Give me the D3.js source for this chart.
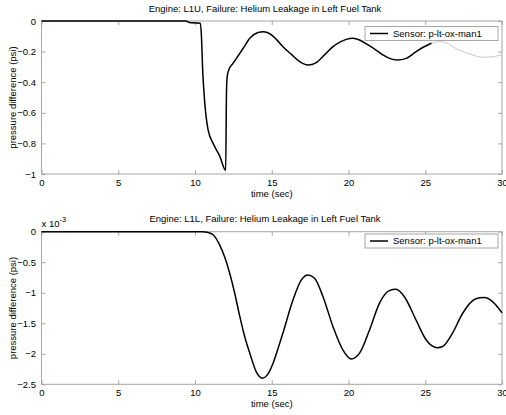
<!DOCTYPE html>
<html>
<head>
<meta charset="utf-8">
<script src="https://cdn.jsdelivr.net/npm/d3@7/dist/d3.min.js"></script>
<style>
  body { margin: 0; background: #fff; }
  svg { display: block; font-family: "Liberation Sans", Arial, sans-serif; }
  .tick text { font-size: 9.5px; fill: #000; }
  .tick line { stroke: #a6a6a6; }
</style>
</head>
<body>
<div id="chart"></div>
<script>
'use strict';

// upper plot, engine L1U (psi)
const topTime = [0, 9.4, 9.6, 9.8, 10.35, 10.42, 10.5, 10.64, 10.85, 11.18, 11.6, 12.0, 12.05, 12.1, 12.2,
    12.45, 12.7, 13.13, 13.57, 14.1, 14.45, 14.9, 15.3, 15.73, 16.3, 16.82, 17.36, 17.9, 18.45, 18.99,
    19.5, 19.86, 20.29, 20.72, 21.25, 21.8, 22.3, 22.67, 23.2, 23.76, 24.41, 24.9, 25.4, 26.04, 26.5,
    27.0, 27.6, 28.1, 28.75, 29.4, 30];
const topPsi = [0, 0, -0.008, -0.012, -0.014, -0.1, -0.32, -0.54, -0.71, -0.80, -0.88, -0.975, -0.47, -0.36, -0.32,
    -0.28, -0.244, -0.18, -0.113, -0.075, -0.07, -0.085, -0.12, -0.168, -0.22, -0.266, -0.288, -0.272, -0.22, -0.168,
    -0.135, -0.12, -0.113, -0.124, -0.155, -0.19, -0.225, -0.244, -0.255, -0.244, -0.2, -0.17, -0.145, -0.135, -0.15,
    -0.18, -0.205, -0.222, -0.237, -0.233, -0.22];
const topFadeFrom = 25.4; // trace is drawn light gray after this time

// lower plot, engine L1L (x 10^-3 psi)
const botTime = [0, 10.5, 10.8, 11.18, 11.61, 11.94, 12.26, 12.58, 12.91, 13.24, 13.57, 14.0, 14.39, 14.7,
    15.08, 15.4, 15.73, 16.38, 16.93, 17.36, 17.79, 18.34, 18.99, 19.64, 20.18, 20.72, 21.37, 22.02,
    22.66, 23.1, 23.64, 24.4, 25.05, 25.8, 26.13, 26.78, 27.43, 28.3, 28.84, 29.4, 30];
const botPsi = [0, 0, -0.01, -0.05, -0.22, -0.42, -0.68, -1.0, -1.38, -1.72, -1.99, -2.3, -2.40, -2.35,
    -2.16, -1.92, -1.66, -1.12, -0.79, -0.71, -0.764, -1.065, -1.556, -1.94, -2.085, -1.99, -1.61, -1.17,
    -0.966, -0.944, -1.065, -1.447, -1.77, -1.9, -1.88, -1.66, -1.34, -1.10, -1.08, -1.15, -1.33];

const xTicks = [0, 5, 10, 15, 20, 25, 30];
const topTicks = [0, -0.2, -0.4, -0.6, -0.8, -1];
const botTicks = [0, -0.5, -1, -1.5, -2, -2.5];

const titles = ['Engine: L1U, Failure: Helium Leakage in Left Fuel Tank',
                'Engine: L1L, Failure: Helium Leakage in Left Fuel Tank'];
const legendText = 'Sensor: p-lt-ox-man1';

const width = 506, height = 415;
const left = 41.5, right = 502;
const boxColor = '#a6a6a6';

const svg = d3.select('#chart').append('svg')
    .attr('width', width)
    .attr('height', height);
svg.append('rect').attr('width', width).attr('height', height).attr('fill', '#fff');

const x = d3.scaleLinear().domain([0, 30]).range([left, right]);

function panel(cfg) {
    const y = d3.scaleLinear().domain(cfg.domain).range([cfg.bottom, cfg.top]);
    const g = svg.append('g');

    g.append('rect')
        .attr('x', left).attr('y', cfg.top)
        .attr('width', right - left).attr('height', cfg.bottom - cfg.top)
        .attr('fill', '#fff').attr('stroke', boxColor);

    const ax = (axis, tx, ty) => g.append('g')
        .attr('transform', `translate(${tx},${ty})`)
        .call(axis)
        .call(s => s.select('.domain').remove())
        .call(s => s.selectAll('.tick text').attr('font-family', null).attr('font-size', null));

    ax(d3.axisBottom(x).tickValues(xTicks).tickSizeInner(-4).tickSizeOuter(0).tickPadding(5.3), 0, cfg.bottom);
    ax(d3.axisTop(x).tickValues(xTicks).tickSizeInner(-4).tickSizeOuter(0).tickFormat(''), 0, cfg.top);
    ax(d3.axisLeft(y).tickValues(cfg.ticks).tickSizeInner(-4).tickSizeOuter(0).tickPadding(5.5)
        .tickFormat(d3.format('')), left, 0);
    ax(d3.axisRight(y).tickValues(cfg.ticks).tickSizeInner(-4).tickSizeOuter(0).tickFormat(''), right, 0);

    const pts = cfg.time.map((t, i) => [t, cfg.values[i]]);
    const line = d3.line().x(d => x(d[0])).y(d => y(d[1])).curve(d3.curveMonotoneX);
    const fade = cfg.fadeFrom == null ? Infinity : cfg.fadeFrom;
    const head = pts.filter(d => d[0] <= fade);
    const tail = pts.filter(d => d[0] >= fade);

    if (tail.length > 1) {
        g.append('path').datum(tail).attr('d', line)
            .attr('fill', 'none').attr('stroke', '#c8c8c8').attr('stroke-width', 1);
    }
    g.append('path').datum(head).attr('d', line)
        .attr('fill', 'none').attr('stroke', '#000').attr('stroke-width', 1.5)
        .attr('stroke-linejoin', 'round');

    // legend
    const lg = g.append('g').attr('transform', `translate(365,${cfg.legendTop})`);
    lg.append('rect').attr('width', 133).attr('height', 14)
        .attr('fill', '#fff').attr('stroke', boxColor);
    lg.append('line').attr('x1', 5).attr('x2', 23).attr('y1', 7).attr('y2', 7)
        .attr('stroke', '#000').attr('stroke-width', 1.5);
    lg.append('text').attr('x', 28).attr('y', 10.4)
        .attr('font-size', 9.5).text(legendText);

    // titles and labels
    svg.append('text').attr('x', 265).attr('y', cfg.top - 9.5)
        .attr('text-anchor', 'middle').attr('font-size', 9.5).text(cfg.title);
    svg.append('text').attr('x', (left + right) / 2).attr('y', cfg.bottom + 22.5)
        .attr('text-anchor', 'middle').attr('font-size', 9.5).text('time (sec)');
    svg.append('text')
        .attr('transform', `translate(16,${(cfg.top + cfg.bottom) / 2}) rotate(-90)`)
        .attr('text-anchor', 'middle').attr('font-size', 9.5)
        .text('pressure difference (psi)');

    if (cfg.exponent) {
        const t = svg.append('text').attr('x', 41.5).attr('y', cfg.top - 5.2).attr('font-size', 9.5);
        t.append('tspan').text('x 10');
        t.append('tspan').attr('dy', -5).attr('font-size', 7.5).text(cfg.exponent);
    }
}

panel({
    top: 21, bottom: 174, domain: [-1, 0], ticks: topTicks,
    time: topTime, values: topPsi, fadeFrom: topFadeFrom,
    title: titles[0], legendTop: 26.5
});
panel({
    top: 231.7, bottom: 384.3, domain: [-2.5, 0], ticks: botTicks,
    time: botTime, values: botPsi, exponent: '-3',
    title: titles[1], legendTop: 234
});
</script>
</body>
</html>
